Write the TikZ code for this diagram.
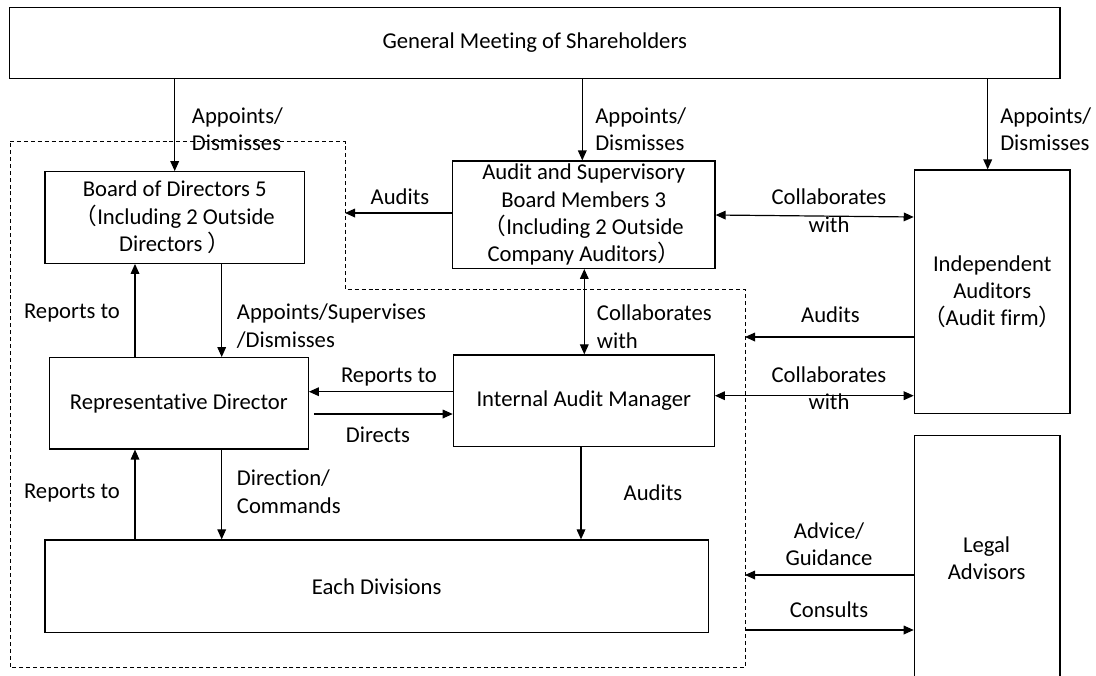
\documentclass[tikz,border=0pt]{standalone}
\usepackage{fontspec}
\setmainfont{Carlito}[Ligatures=NoCommon]
\newfontfamily\cjkfont{Noto Sans CJK SC}
\usetikzlibrary{arrows.meta,calc}
\newcommand{\flp}{{\cjkfont （}}
\newcommand{\frp}{{\cjkfont ）}}
\begin{document}
\begin{tikzpicture}[x=0.75pt,y=-0.75pt,
  font=\fontsize{17}{20.6}\selectfont,
  box/.style={draw, line width=0.9pt, inner sep=0pt, align=center},
  lbl/.style={inner sep=0pt, align=center},
  lbll/.style={inner sep=0pt, align=left, anchor=west},
  arr/.style={line width=0.9pt, -{Triangle[length=7.5pt,width=6.5pt]}},
  darr/.style={line width=0.9pt, {Triangle[length=7.5pt,width=6.5pt]}-{Triangle[length=7.5pt,width=6.5pt]}},
  bound/.style={line width=0.75pt, dash pattern=on 3pt off 2.2pt}]
\useasboundingbox (0,0) rectangle (1096,675);
\clip (0,0) rectangle (1096,675);

% boxes
\node[box, minimum width=788pt, minimum height=53.25pt] (gm) at (534.7,42.8) {General Meeting of Shareholders};
\node[box, minimum width=194.5pt, minimum height=68.7pt] (board) at (174.7,217.5) {Board of Directors 5\\\flp Including 2 Outside\\Directors \frp};
\node[box, minimum width=197pt, minimum height=80.5pt] (audit) at (583.7,214.7) {Audit and Supervisory\\Board Members 3\\\flp Including 2 Outside\\Company Auditors\frp};
\node[box, minimum width=116.8pt, minimum height=182.5pt] (indep) at (992.2,291.7) {Independent\\Auditors\\\flp Audit firm\frp};
\node[box, minimum width=194.25pt, minimum height=68.5pt] (rep) at (178.8,403.3) {Representative Director};
\node[box, minimum width=195.75pt, minimum height=68.75pt] (iam) at (583.8,400.8) {Internal Audit Manager};
\node[box, minimum width=497.5pt, minimum height=69.5pt] (each) at (376.7,586.3) {Each Divisions};
\node[box, minimum width=109.3pt, minimum height=198.2pt] (legal) at (987.2,567.8) {};
\node[lbl] (legaltxt) at (986.6,558) {Legal\\Advisors};

% dashed boundary
\coordinate (dA) at (10,141.7);
\coordinate (dB) at (345,141.7);
\coordinate (dC) at (345,289.3);
\coordinate (dD) at (745,289.3);
\coordinate (dE) at (745,667.7);
\coordinate (dF) at (10,667.7);
\draw[bound] (dA) -- (dB) -- (dC) -- (dD) -- (dE) -- (dF) -- cycle;

% helper coordinates
\coordinate (xa) at (582.3,0);
\coordinate (xi) at (987.7,0);
\coordinate (xb) at (584.3,0);
\coordinate (xr) at (221.7,0);
\coordinate (xl) at (135,0);
\coordinate (xe) at (581,0);
\coordinate (y213) at (0,213);
\coordinate (y215) at (0,215);
\coordinate (y217) at (0,217);
\coordinate (y391) at (0,391.7);
\coordinate (y414) at (0,414);
\coordinate (y396) at (0,395.7);
\coordinate (y337) at (0,337);
\coordinate (y575) at (0,575);
\coordinate (y630) at (0,630);
\coordinate (repE) at ([xshift=3.75pt]rep.east);

% connectors
\draw[arr] (gm.south -| board.north) -- (board.north);
\draw[arr] (gm.south -| xa) -- (audit.north -| xa);
\draw[arr] (gm.south -| xi) -- (indep.north -| xi);
\draw[arr] (audit.west |- y213) -- (dB |- y213);
\draw[darr] (audit.east |- y215) -- (indep.west |- y217);
\draw[darr] (audit.south -| xb) -- (iam.north -| xb);
\draw[arr] (board.south -| xr) -- (rep.north -| xr);
\draw[arr] (rep.north -| xl) -- (board.south -| xl);
\draw[arr] (rep.south -| xr) -- (each.north -| xr);
\draw[arr] (each.north -| xl) -- (rep.south -| xl);
\draw[arr] (iam.west |- y391) -- (rep.east |- y391);
\draw[arr] (repE |- y414) -- (iam.west |- y414);
\draw[darr] (iam.east |- y396) -- (indep.west |- y396);
\draw[arr] (indep.west |- y337) -- (dD |- y337);
\draw[arr] (legal.west |- y575) -- (dD |- y575);
\draw[arr] (dD |- y630) -- (legal.west |- y630);
\draw[arr] (iam.south -| xe) -- (each.north -| xe);

% labels
\node[lbll] (l1) at (191.7,129) {Appoints/\\Dismisses};
\node[lbll] (l2) at (595,129) {Appoints/\\Dismisses};
\node[lbll] (l3) at (1000,129) {Appoints/\\Dismisses};
\node[lbl] (l4) at (400,197) {Audits};
\node[lbl] (l5) at (829,210.5) {Collaborates\\with};
\node[lbll] (l6) at (596.7,326.5) {Collaborates\\with};
\node[lbl] (l7) at (72,313) {Reports to};
\node[lbll] (l8) at (236.7,326) {Appoints/Supervises\\/Dismisses};
\node[lbl] (l9) at (389,377) {Reports to};
\node[lbl] (l10) at (378,435) {Directs};
\node[lbll] (l11) at (236.7,491.5) {Direction/\\Commands};
\node[lbl] (l12) at (72,493) {Reports to};
\node[lbl] (l13) at (653,493) {Audits};
\node[lbl] (l14) at (830.5,315) {Audits};
\node[lbl] (l15) at (829,388.3) {Collaborates\\with};
\node[lbl] (l16) at (829,544.3) {Advice/\\Guidance};
\node[lbl] (l17) at (829,610) {Consults};
\end{tikzpicture}
\end{document}
